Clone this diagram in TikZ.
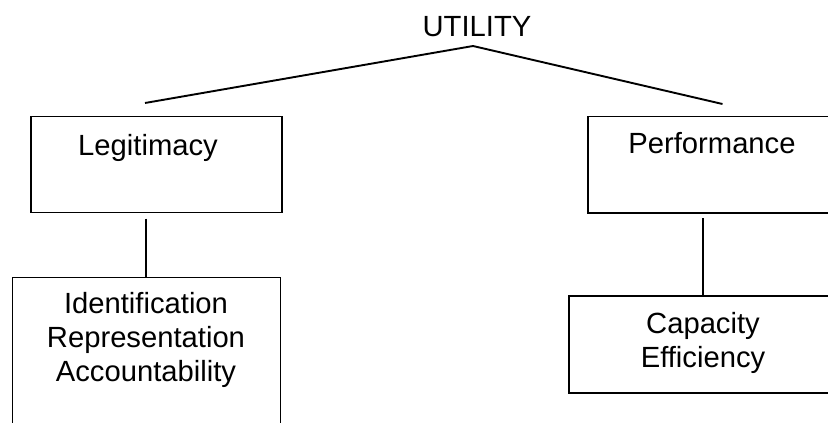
\documentclass[tikz,border=0pt]{standalone}
\usepackage{fontspec}
\setmainfont{Liberation Sans}
\begin{document}
\begin{tikzpicture}[x=1pt,y=-1pt,
  lbl/.style={anchor=base,inner sep=0pt,font=\fontsize{29.2}{34}\selectfont},
  boxframe/.style={draw,line width=1.9pt,rectangle,inner sep=0pt,anchor=north west},
  conn/.style={line width=1.9pt}]
\useasboundingbox (0,0) rectangle (828,423);
\clip (0,0) rectangle (828,423);
% boxes
\node[boxframe,minimum width=251pt,minimum height=96pt] (legitbox) at (30,115.5) {};
\node[boxframe,minimum width=300pt,minimum height=96.5pt] (perfbox) at (587,115.5) {};
\node[boxframe,minimum width=268pt,minimum height=200pt] (idbox) at (11.5,276.5) {};
\node[boxframe,minimum width=300pt,minimum height=97pt] (capbox) at (568,295) {};
% texts
\node[lbl] (utility) at (477,36.7) {UTILITY};
\node[lbl] (legit) at (148,155) {Legitimacy};
\node[lbl] (perf) at (712,153.5) {Performance};
\node[lbl] (ident) at (146,313) {Identification};
\node[lbl] (repr) at (146,347) {Representation};
\node[lbl] (acct) at (146,381) {Accountability};
\node[lbl] (capa) at (703,333) {Capacity};
\node[lbl] (effi) at (703,367) {Efficiency};
% connector points
\coordinate (apex) at (473,46);
\coordinate (lend) at (145,103);
\coordinate (rend) at (722.5,104);
\coordinate (lv) at (146,218.5);
\coordinate (rv) at (703,218);
% connectors
\draw[conn] (lend) -- (apex) -- (rend);
\draw[conn] (lv) -- (lv |- idbox.north);
\draw[conn] (rv) -- (rv |- capbox.north);
\end{tikzpicture}
\end{document}
